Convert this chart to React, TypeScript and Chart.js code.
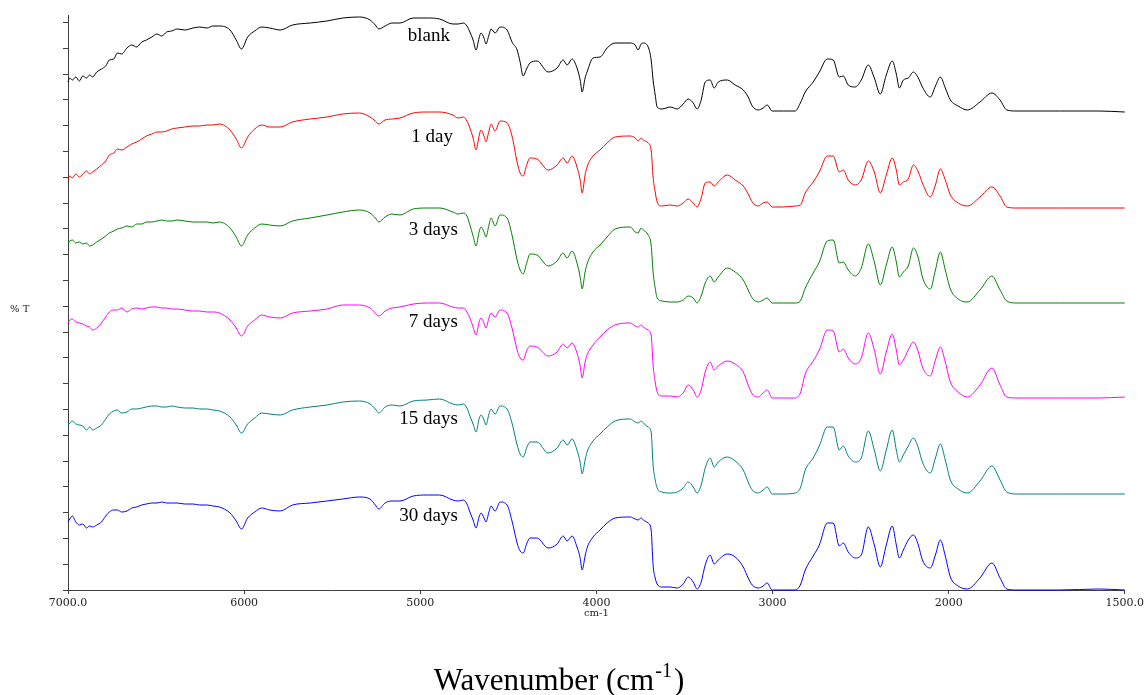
import React, { useEffect, useRef } from 'react';
import { Chart, registerables } from 'chart.js';

Chart.register(...registerables);

// Wavenumbers (cm-1) shared by every spectrum
const WAVENUMBERS = [
  7000, 6990, 6975, 6956, 6935, 6916, 6895, 6877, 6860, 6837,
  6810, 6786, 6765, 6740, 6720, 6695, 6665, 6638, 6610, 6581,
  6555, 6524, 6495, 6468, 6440, 6411, 6380, 6337, 6290, 6252,
  6210, 6178, 6140,
  6080, 6045, 6015, 5980, 5940, 5900, 5855, 5795, 5725, 5625,
  5530, 5440, 5345, 5285, 5255, 5235, 5200, 5160, 5115, 5040,
  4960, 4890, 4815, 4785, 4755,
  4735, 4718, 4700, 4683, 4666, 4655, 4638, 4627, 4610, 4598,
  4575, 4547, 4507, 4479, 4450, 4433, 4416, 4394, 4377, 4337,
  4274, 4223, 4189, 4166, 4138, 4110, 4092, 4081, 4064, 4053,
  4019, 3979, 3939, 3894, 3808, 3780, 3763, 3746, 3734, 3706,
  3689, 3678, 3666, 3655, 3627, 3581, 3541, 3507, 3479, 3450,
  3428, 3405, 3382, 3354, 3331, 3308, 3257, 3212, 3166, 3138,
  3115, 3081, 3053, 3030, 3002, 2939, 2871, 2842, 2814, 2769,
  2734, 2689, 2655, 2621, 2598, 2570, 2530, 2496, 2456, 2422,
  2388, 2354, 2320, 2297, 2280, 2257, 2229, 2200, 2172, 2149,
  2104, 2075, 2047, 2019, 1995, 1973, 1947, 1911, 1877, 1854,
  1835, 1806, 1685, 1573, 1500,
];

// %T (arbitrary units, spectra offset for clarity)
const BLANK = [
  508, 512, 510, 513, 509, 514, 512, 515, 513, 518, 521, 524, 530, 531, 537, 536, 542, 545, 543, 548,
  550, 553, 556, 554, 558, 559, 561, 560, 562, 563, 562, 564, 564,
  560, 550, 541, 553, 559, 563, 562, 560, 565, 567, 569, 572, 573, 570, 565, 561, 564, 567, 567, 572,
  572, 571, 566, 566, 567,
  564, 558, 550, 540, 552, 557, 552, 546, 555, 561, 557, 563, 560, 548, 540, 528, 514, 522, 527, 529,
  518, 522, 530, 525, 531, 522, 510, 498, 512, 518, 532, 533, 542, 547, 547, 545, 540, 546, 547, 543,
  530, 510, 495, 483, 481, 483, 481, 486, 491, 487, 481, 490, 508, 510, 502, 508, 510, 505, 500, 493,
  484, 480, 482, 485, 479, 479, 479, 487, 498, 508, 518, 531, 530, 513, 514, 505, 503, 510, 525, 512,
  496, 515, 529, 516, 502, 510, 512, 518, 512, 503, 493, 504, 513, 502, 490, 484, 480, 488, 497, 490,
  480, 479, 479, 479, 478,
];
const DAY1 = [
  411, 414, 412, 416, 413, 416, 419, 416, 418, 421, 425, 429, 435, 437, 441, 440, 443, 446, 448, 451,
  454, 456, 458, 458, 459, 461, 462, 463, 464, 464, 465, 465, 466,
  460, 451, 442, 453, 461, 465, 463, 463, 468, 471, 473, 476, 477, 473, 469, 466, 470, 471, 472, 477,
  478, 478, 475, 472, 473,
  469, 462, 452, 440, 454, 460, 454, 448, 459, 466, 459, 469, 467, 454, 428, 417, 414, 426, 432, 431,
  420, 425, 432, 427, 434, 423, 410, 397, 415, 423, 434, 440, 447, 453, 454, 452, 449, 452, 450, 447,
  440, 413, 398, 388, 384, 385, 384, 387, 391, 387, 383, 392, 407, 408, 404, 408, 415, 410, 404, 396,
  388, 384, 387, 388, 383, 383, 384, 385, 397, 408, 418, 434, 434, 418, 420, 410, 405, 410, 429, 418,
  397, 415, 432, 420, 405, 408, 411, 425, 418, 407, 393, 405, 421, 410, 395, 387, 384, 393, 403, 394,
  383, 382, 382, 382, 382,
];
const DAY3 = [
  347, 349, 350, 347, 348, 346, 347, 344, 345, 348, 351, 354, 357, 359, 361, 362, 364, 363, 366, 366,
  368, 368, 369, 370, 369, 369, 370, 369, 368, 368, 368, 367, 368,
  362, 353, 344, 355, 362, 366, 365, 364, 369, 372, 375, 378, 380, 377, 372, 368, 373, 376, 375, 381,
  382, 382, 378, 376, 377,
  374, 365, 354, 344, 358, 363, 358, 353, 365, 372, 364, 375, 372, 355, 330, 320, 316, 328, 336, 335,
  324, 329, 337, 332, 339, 327, 313, 301, 318, 326, 338, 345, 353, 361, 363, 358, 357, 362, 360, 355,
  345, 318, 302, 292, 289, 288, 288, 290, 294, 292, 287, 294, 307, 314, 308, 313, 322, 318, 310, 300,
  292, 288, 290, 292, 287, 287, 287, 289, 302, 317, 328, 349, 350, 327, 328, 320, 314, 322, 346, 328,
  305, 325, 343, 328, 313, 318, 324, 342, 332, 313, 301, 320, 338, 320, 301, 291, 288, 300, 314, 300,
  289, 287, 287, 287, 287,
];
const DAY7 = [
  267, 270, 271, 268, 267, 266, 264, 263, 260, 262, 267, 273, 278, 280, 280, 282, 278, 281, 282, 281,
  282, 283, 283, 282, 282, 281, 281, 280, 279, 279, 278, 278, 277,
  270, 262, 254, 264, 270, 275, 273, 272, 277, 279, 281, 285, 285, 282, 277, 274, 279, 282, 283, 286,
  287, 287, 283, 282, 282,
  278, 272, 263, 255, 268, 272, 267, 262, 272, 277, 273, 280, 277, 262, 240, 232, 230, 240, 244, 243,
  234, 238, 246, 242, 247, 237, 224, 212, 228, 235, 245, 253, 260, 265, 267, 264, 263, 265, 263, 260,
  255, 225, 208, 198, 194, 194, 193, 197, 205, 200, 193, 200, 218, 228, 220, 224, 229, 226, 218, 205,
  196, 193, 197, 200, 192, 192, 192, 197, 216, 229, 240, 260, 259, 238, 241, 232, 226, 232, 257, 240,
  216, 238, 256, 240, 225, 230, 240, 248, 238, 223, 214, 230, 243, 228, 208, 198, 193, 205, 222, 205,
  193, 192, 192, 192, 193,
];
const DAY15 = [
  165, 167, 169, 166, 165, 164, 160, 163, 160, 162, 165, 171, 176, 179, 180, 177, 178, 181, 181, 182,
  183, 184, 184, 183, 183, 184, 183, 182, 182, 181, 181, 180, 179,
  173, 165, 157, 166, 172, 177, 176, 175, 180, 183, 185, 188, 189, 186, 181, 177, 183, 185, 184, 189,
  190, 191, 186, 185, 186,
  182, 174, 166, 158, 171, 175, 170, 165, 176, 181, 176, 184, 181, 167, 145, 136, 133, 143, 148, 148,
  137, 142, 150, 145, 151, 140, 128, 116, 130, 138, 149, 156, 163, 169, 171, 168, 167, 169, 167, 163,
  158, 125, 110, 102, 98, 97, 98, 102, 108, 103, 97, 105, 122, 132, 123, 128, 133, 129, 120, 108,
  100, 97, 100, 103, 96, 96, 97, 102, 120, 132, 144, 163, 163, 140, 144, 134, 128, 132, 159, 140,
  119, 140, 160, 140, 128, 135, 144, 152, 142, 128, 117, 132, 146, 130, 110, 101, 97, 109, 124, 110,
  98, 96, 96, 96, 96,
];
const DAY30 = [
  68, 71, 74, 68, 65, 66, 62, 64, 63, 65, 68, 74, 78, 80, 80, 78, 79, 82, 83, 85,
  86, 87, 87, 88, 87, 87, 87, 86, 86, 85, 85, 84, 83,
  77, 69, 61, 72, 78, 82, 80, 79, 85, 87, 89, 91, 93, 91, 85, 81, 87, 89, 89, 94,
  95, 95, 90, 89, 90,
  86, 78, 70, 62, 73, 77, 72, 68, 78, 84, 79, 88, 85, 69, 47, 39, 37, 47, 52, 52,
  42, 46, 54, 49, 54, 43, 32, 20, 34, 42, 53, 60, 67, 72, 73, 71, 70, 72, 70, 67,
  60, 25, 12, 6, 3, 3, 2, 6, 13, 8, 1, 8, 25, 35, 26, 30, 36, 33, 23, 12,
  5, 2, 4, 7, 0, 0, 0, 5, 20, 34, 45, 67, 67, 44, 47, 38, 32, 35, 63, 45,
  23, 45, 64, 45, 32, 40, 50, 55, 45, 30, 22, 35, 50, 34, 13, 4, 1, 12, 27, 12,
  1, 0, 0, 1, 0,
];

const SERIES = [BLANK, DAY1, DAY3, DAY7, DAY15, DAY30];
const SERIES_NAMES = ['blank', '1 day', '3 days', '7 days', '15 days', '30 days'];
const SERIES_COLORS = ['#000000', '#ff0000', '#008000', '#ff00ff', '#008080', '#0000ff'];
// label anchors (right edge) in data units
const LABEL_WN = [4831, 4814, 4786, 4786, 4786, 4786];
const LABEL_T = [554, 453, 360, 268, 171, 74];

const X_TICK_WN = [7000, 6000, 5000, 4000, 3000, 2000, 1500];
const X_TICK_LABELS = ['7000.0', '6000', '5000', '4000', '3000', '2000', '1500.0'];
const Y_TICKS = [
  0, 25.8, 51.6, 77.4, 103.2, 129, 154.8, 180.6, 206.4, 232.2, 258, 283.8,
  309.6, 335.4, 361.2, 387, 412.8, 438.6, 464.4, 490.2, 516, 541.8, 567.6,
];
const Y_MAX = 575;

// axis scale is expanded 2x below 2000 cm-1
const toAxis = (wn: number) => (wn >= 2000 ? wn : 2 * wn - 2000);

const AXIS_COLOR = '#404040';

const textPlugin = {
  id: 'spectraTexts',
  afterDraw(chart: any) {
    const { ctx, scales, chartArea } = chart;
    const x = scales.x;
    const y = scales.y;
    ctx.save();
    ctx.fillStyle = '#000';
    ctx.font = '19px "Liberation Serif"';
    ctx.textAlign = 'right';
    ctx.textBaseline = 'middle';
    SERIES_NAMES.forEach((name, i) => {
      ctx.fillText(name, x.getPixelForValue(toAxis(LABEL_WN[i])), y.getPixelForValue(LABEL_T[i]));
    });

    ctx.fillStyle = '#222';
    ctx.font = '10px "DejaVu Serif"';
    ctx.textAlign = 'left';
    ctx.fillText('% T', 10, 309);
    ctx.textAlign = 'center';
    ctx.fillText('cm-1', (chartArea.left + chartArea.right) / 2, 613);

    // main axis title with superscript
    ctx.fillStyle = '#000';
    ctx.textAlign = 'left';
    ctx.textBaseline = 'alphabetic';
    const mainFont = '31px "Liberation Serif"';
    const supFont = '20px "Liberation Serif"';
    const part1 = 'Wavenumber (cm';
    const sup = '-1';
    const part3 = ')';
    ctx.font = mainFont;
    const w1 = ctx.measureText(part1).width;
    const w3 = ctx.measureText(part3).width;
    ctx.font = supFont;
    const w2 = ctx.measureText(sup).width;
    const total = w1 + w2 + w3 + 3;
    const startX = 559 - total / 2;
    const baseY = 690;
    ctx.font = mainFont;
    ctx.fillText(part1, startX, baseY);
    ctx.font = supFont;
    ctx.fillText(sup, startX + w1 + 1, baseY - 13);
    ctx.font = mainFont;
    ctx.fillText(part3, startX + w1 + w2 + 3, baseY);
    ctx.restore();
  },
};

export default function App() {
  const canvasRef = useRef<HTMLCanvasElement | null>(null);

  useEffect(() => {
    const canvas = canvasRef.current;
    if (!canvas) return;
    const datasets = SERIES.map((values, s) => ({
      label: SERIES_NAMES[s],
      data: WAVENUMBERS.map((wn, i) => ({ x: toAxis(wn), y: values[i] })),
      borderColor: SERIES_COLORS[s],
      backgroundColor: SERIES_COLORS[s],
      borderWidth: 1,
      pointRadius: 0,
      cubicInterpolationMode: 'monotone',
      fill: false,
      clip: 4,
    }));

    const chart = new Chart(canvas, {
      type: 'line',
      data: { datasets },
      options: {
        responsive: false,
        animation: false,
        devicePixelRatio: 1,
        layout: { padding: { left: 0, right: 21, top: 15, bottom: 0 } },
        plugins: {
          legend: { display: false },
          tooltip: { enabled: false },
        },
        scales: {
          x: {
            type: 'linear',
            min: toAxis(1500),
            max: toAxis(7000),
            reverse: true,
            afterBuildTicks: (scale: any) => {
              scale.ticks = X_TICK_WN.map((wn) => ({ value: toAxis(wn) }));
            },
            afterFit: (scale: any) => {
              scale.height = 105;
            },
            ticks: {
              autoSkip: false,
              maxRotation: 0,
              padding: 3,
              color: '#222',
              font: { family: 'DejaVu Serif', size: 11 },
              callback: (_v: any, index: number) => X_TICK_LABELS[index],
            },
            grid: {
              display: true,
              drawOnChartArea: false,
              drawTicks: true,
              tickLength: 4,
              color: AXIS_COLOR,
            },
            border: { display: true, color: AXIS_COLOR, width: 1 },
          },
          y: {
            type: 'linear',
            min: 0,
            max: Y_MAX,
            afterBuildTicks: (scale: any) => {
              scale.ticks = Y_TICKS.map((v) => ({ value: v }));
            },
            afterFit: (scale: any) => {
              scale.width = 68;
            },
            ticks: { display: false },
            grid: {
              display: true,
              drawOnChartArea: false,
              drawTicks: true,
              tickLength: 5,
              color: AXIS_COLOR,
            },
            border: { display: true, color: AXIS_COLOR, width: 1 },
          },
        },
      },
      plugins: [textPlugin],
    } as any);

    return () => chart.destroy();
  }, []);

  return (
    <div style={{ position: 'absolute', left: 0, top: 0, width: 1147, height: 695, background: '#fff' }}>
      <canvas ref={canvasRef} width={1147} height={695} style={{ display: 'block' }} />
    </div>
  );
}
